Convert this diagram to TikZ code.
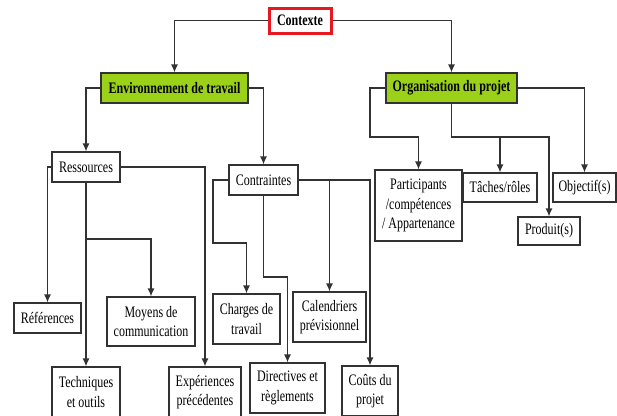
\documentclass[tikz,border=0pt]{standalone}
\usepackage{fontspec}
\setmainfont{Liberation Serif}[FakeStretch=0.75]
\usetikzlibrary{arrows.meta}

\definecolor{linegray}{RGB}{50,50,50}
\definecolor{limegreen}{RGB}{155,210,25}
\definecolor{ctxred}{RGB}{230,25,35}

\begin{document}
\begin{tikzpicture}[
  x=1pt, y=-1pt,
  font=\fontsize{16}{19.5}\selectfont,
  box/.style={draw=linegray, line width=1.2pt, fill=white, inner sep=1pt, align=center},
  keybox/.style={box, fill=limegreen, font=\fontsize{16}{19.5}\selectfont\bfseries},
  topbox/.style={draw=ctxred, line width=3pt, fill=white, inner sep=1pt, font=\fontsize{16}{19.5}\selectfont\bfseries},
  flow/.style={-{Latex[length=8pt,width=7pt]}, draw=linegray, line width=1.2pt}]

\useasboundingbox[fill=white] (0,0) rectangle (617,415);

% Top of the tree
\node[topbox, minimum width=62pt, minimum height=25pt] (ctx) at (300,20.5) {Contexte};
\node[keybox, minimum width=147pt, minimum height=30pt] (env) at (174.5,88) {Environnement de travail};
\node[keybox, minimum width=131pt, minimum height=30pt] (org) at (451.5,88) {Organisation du projet};

% Second level
\node[box, minimum width=68pt, minimum height=30pt] (res) at (86,167) {Ressources};
\node[box, minimum width=69pt, minimum height=30pt] (con) at (263.5,180) {Contraintes};

% Leaves under Ressources
\node[box, minimum width=67pt, minimum height=30pt] (ref) at (47.5,318) {Références};
\node[box, minimum width=68pt, minimum height=50pt] (tech) at (86,392) {Techniques\\et outils};
\node[box, minimum width=88pt, minimum height=49pt] (moy) at (151,321.5) {Moyens de\\communication};
\node[box, minimum width=72pt, minimum height=50pt] (exp) at (205,392) {Expériences\\précédentes};

% Leaves under Contraintes
\node[box, minimum width=67pt, minimum height=50pt] (cha) at (246.5,319) {Charges de\\travail};
\node[box, minimum width=75pt, minimum height=50pt] (dir) at (287.5,388) {Directives et\\règlements};
\node[box, minimum width=73pt, minimum height=50pt] (cal) at (329.5,317) {Calendriers\\prévisionnel};
\node[box, minimum width=56pt, minimum height=50pt] (cou) at (370,391) {Coûts du\\projet};

% Leaves under Organisation du projet
\node[box, minimum width=87pt, minimum height=71pt] (par) at (418.5,205.5) {Participants\\/compétences\\/ Appartenance};
\node[box, minimum width=74pt, minimum height=29pt] (tac) at (500,187.5) {Tâches/rôles};
\node[box, minimum width=62pt, minimum height=28pt] (pro) at (549,231) {Produit(s)};
\node[box, minimum width=63pt, minimum height=29pt] (obj) at (584.5,187.5) {Objectif(s)};

% Bend points
\coordinate (resmoy) at (86,239);
\coordinate (chabend) at (213,243);
\coordinate (dirbend) at (263.5,277);
\coordinate (parbend) at (370,137);
\coordinate (orgbend) at (451.5,137);

% Connectors
\draw[flow] (ctx.west) -| (env.north);
\draw[flow] (ctx.east) -| (org.north);

\draw[flow] (env.west) -| (res.north);
\draw[flow] (env.east) -| (con.north);

\draw[flow] (res.west) -| (ref.north);
\draw[flow] (res.south) -- (tech.north);
\draw[flow] (resmoy) -| (moy.north);
\draw[flow] (res.east) -| (exp.north);

\draw[flow] (con.west) -| (chabend) -| (cha.north);
\draw[flow] (con.south) -- (dirbend) -| (dir.north);
\draw[flow] (con.east) -| (cou.north);
\draw[flow] (con.east -| cal.north) -- (cal.north);

\draw[flow] (org.west) -| (parbend) -| (par.north);
\draw[flow] (org.south) -- (orgbend) -| (pro.north);
\draw[flow] (orgbend -| tac.north) -- (tac.north);
\draw[flow] (org.east) -| (obj.north);

\end{tikzpicture}
\end{document}
